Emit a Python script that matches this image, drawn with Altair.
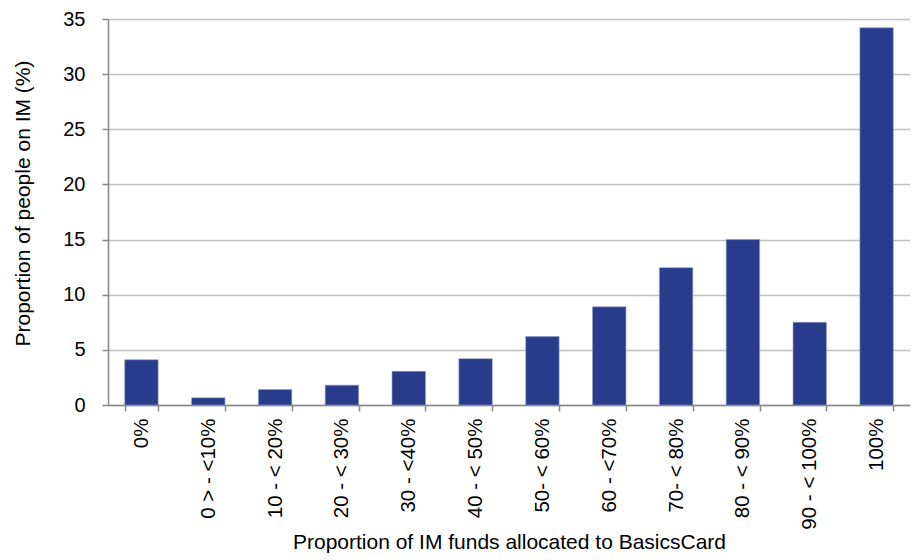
import altair as alt
import pandas as pd

categories = ["0%", "0 > - <10%", "10 - < 20%", "20 - < 30%", "30 - <40%", "40 - < 50%",
              "50- < 60%", "60 - <70%", "70- < 80%", "80 - < 90%", "90 - < 100%", "100%"]
values = [4.1, 0.65, 1.4, 1.8, 3.05, 4.2, 6.2, 8.9, 12.45, 15.0, 7.5, 34.2]

df = pd.DataFrame({"cat": categories, "val": values})

FONT = "Liberation Sans"

chart = alt.Chart(df).mark_bar(
    color="#283C8B", stroke="#8E9CC8", strokeWidth=0.6
).encode(
    x=alt.X("cat:N", sort=categories,
            scale=alt.Scale(paddingInner=0.5, paddingOuter=0.25),
            axis=alt.Axis(title="Proportion of IM funds allocated to BasicsCard",
                          labelAngle=270, labelFontSize=20.5, labelFont=FONT, labelColor="#000000",
                          labelPadding=7, tickBand="extent", tickSize=6, tickColor="#888888",
                          tickWidth=1.5, domainColor="#888888", domainWidth=1.5, grid=False,
                          titleFont=FONT, titleFontSize=21, titleFontWeight="normal",
                          titleColor="#000000", titleY=143, titleBaseline="alphabetic")),
    y=alt.Y("val:Q", scale=alt.Scale(domain=[0, 35], nice=False),
            axis=alt.Axis(title="Proportion of people on IM (%)", values=[0, 5, 10, 15, 20, 25, 30, 35],
                          labelFontSize=20, labelFont=FONT, labelColor="#000000", labelPadding=17,
                          tickSize=6, tickColor="#888888", tickWidth=1.5,
                          domainColor="#888888", domainWidth=1.5,
                          gridColor="#C0C0C0", gridWidth=1.5,
                          titleFont=FONT, titleFontSize=21, titleFontWeight="normal",
                          titleColor="#000000", titleX=-85, titleY=184, titleBaseline="middle"))
).properties(
    width=802, height=386,
    autosize=alt.AutoSizeParams(type="none"),
    padding={"left": 100, "top": 11, "right": 0, "bottom": 153}
).configure_view(stroke=None)

chart.save("out.html", embed_options={"renderer": "svg", "actions": False})
